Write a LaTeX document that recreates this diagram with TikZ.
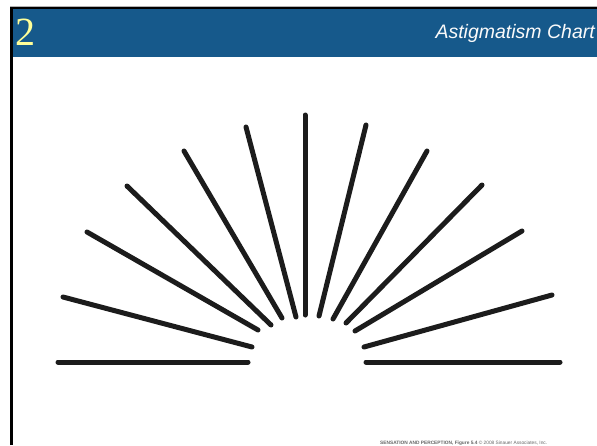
\documentclass[tikz,border=0pt]{standalone}
\usepackage{fontspec}
\setmainfont{Liberation Serif}
\newfontfamily\headsans{Liberation Sans}
\definecolor{headblue}{RGB}{22,89,139}
\definecolor{numyellow}{RGB}{255,255,153}
\definecolor{inkblack}{RGB}{28,28,28}
\tikzset{
  ray/.style={draw=inkblack, line width=5pt, line cap=round},
  frameline/.style={draw=black, line width=2.6pt},
}
\begin{document}
\begin{tikzpicture}[x=1pt,y=-1pt]
\useasboundingbox (0,0) rectangle (597,445);
\fill[white] (0,0) rectangle (597,445);
% header
\draw[gray!60, line width=1pt] (10,6.5) -- (597,6.5);
\fill[headblue] (11,8) rectangle (597,57);
\draw[frameline] (11.3,445) -- (11.3,8) -- (597,8);
\node[anchor=base west, inner sep=0pt, text=numyellow, font=\fontsize{40}{40}\selectfont] (num) at (15,45) {2};
\node[anchor=base east, inner sep=0pt, text=white!96!gray, font=\headsans\itshape\fontsize{19.5}{19.5}\selectfont] (title) at (595,38.5) {Astigmatism Chart};
% rays
\draw[ray] (58,362) -- (248,362);
\draw[ray] (63,297) -- (252,347);
\draw[ray] (87,232) -- (258,330);
\draw[ray] (127,186) -- (271,325);
\draw[ray] (184,151) -- (282,318);
\draw[ray] (246,127) -- (296,317);
\draw[ray] (305,115) -- (305,315);
\draw[ray] (366,125) -- (319,316);
\draw[ray] (427,151) -- (333,319);
\draw[ray] (482,185) -- (346,323);
\draw[ray] (522,231) -- (355,331);
\draw[ray] (552,295) -- (364,347);
\draw[ray] (366,362) -- (560,362);
% credit
\node[anchor=base west, inner sep=0pt, text=gray!80!black, font=\headsans\fontsize{4.8}{4.8}\selectfont] (credit) at (380,444) {\textbf{SENSATION AND PERCEPTION, Figure 5.4} \textcopyright{} 2008 Sinauer Associates, Inc.};
\end{tikzpicture}
\end{document}
